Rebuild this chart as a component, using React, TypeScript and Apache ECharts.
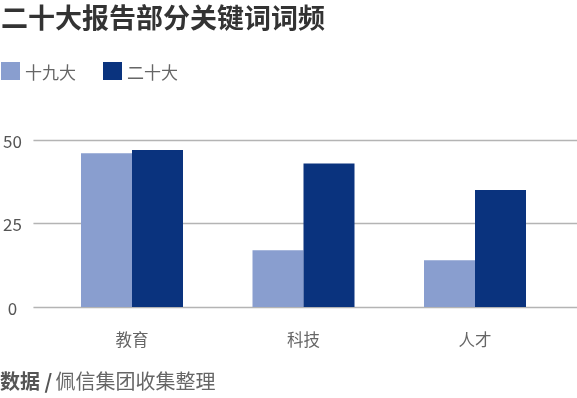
import React, { useEffect, useRef } from "react";
import * as echarts from "echarts";

const categories = ["教育", "科技", "人才"];
const series19 = [46, 17, 14];
const series20 = [47, 43, 35];
const seriesNames = ["十九大", "二十大"];
const yTicks = [0, 25, 50];

const FONT = '"Noto Sans CJK SC", "Noto Sans", sans-serif';
const LIGHT = "#899ecf";
const DARK = "#0a337e";

export default function App() {
  const ref = useRef<HTMLDivElement>(null);
  useEffect(() => {
    if (!ref.current) return;
    const chart = echarts.init(ref.current, null, { renderer: "svg" });
    const yMax = yTicks[yTicks.length - 1];
    const interval = yTicks[1] - yTicks[0];
    chart.setOption({
      animation: false,
      textStyle: { fontFamily: FONT },
      title: {
        text: "二十大报告部分关键词词频",
        left: 1,
        top: 3,
        padding: 0,
        textStyle: { fontFamily: FONT, fontSize: 27, lineHeight: 27, fontWeight: "bold", color: "#333" },
      },
      legend: {
        left: 1,
        top: 62,
        padding: 0,
        icon: "rect",
        itemWidth: 19,
        itemHeight: 18,
        itemGap: 27,
        textStyle: { fontFamily: FONT, fontSize: 17, color: "#666", padding: [0, 0, 0, 0] },
        data: seriesNames,
      },
      grid: [
        { left: 31, right: 0, top: 140, bottom: 91 },
        { left: 46.25, right: 16.25, top: 140, bottom: 91 },
      ],
      xAxis: [
        { gridIndex: 0, type: "category", data: categories, show: false },
        {
          gridIndex: 1,
          type: "category",
          data: categories,
          axisLine: { show: false },
          axisTick: { show: false },
          axisLabel: { margin: 24, fontFamily: FONT, fontSize: 16.5, color: "#666" },
        },
      ],
      yAxis: [
        {
          gridIndex: 0,
          type: "value",
          min: 0,
          max: yMax,
          interval,
          axisLine: { show: false },
          axisTick: { show: false },
          splitLine: { lineStyle: { color: "#b4b4b4", width: 1.3 } },
          axisLabel: { align: "center", margin: 21, fontFamily: FONT, fontSize: 17, color: "#555" },
        },
        { gridIndex: 1, type: "value", min: 0, max: yMax, interval, show: false },
      ],
      series: [
        {
          name: seriesNames[0],
          type: "bar",
          xAxisIndex: 1,
          yAxisIndex: 1,
          data: series19,
          barWidth: 51,
          barGap: "0%",
          itemStyle: { color: LIGHT },
        },
        {
          name: seriesNames[1],
          type: "bar",
          xAxisIndex: 1,
          yAxisIndex: 1,
          data: series20,
          barWidth: 51,
          barGap: "0%",
          itemStyle: { color: DARK },
        },
      ],
      graphic: [
        {
          type: "text",
          left: 0,
          top: 370,
          style: {
            text: "{b|数据 /} {n|佩信集团收集整理}",
            rich: {
              b: { fontFamily: FONT, fontSize: 20, fontWeight: "bold", fill: "#555" },
              n: { fontFamily: FONT, fontSize: 20, fill: "#666" },
            },
          },
        },
      ],
    });
    return () => chart.dispose();
  }, []);
  return <div ref={ref} style={{ width: 577, height: 398, position: "fixed", left: 0, top: 0 }} />;
}
